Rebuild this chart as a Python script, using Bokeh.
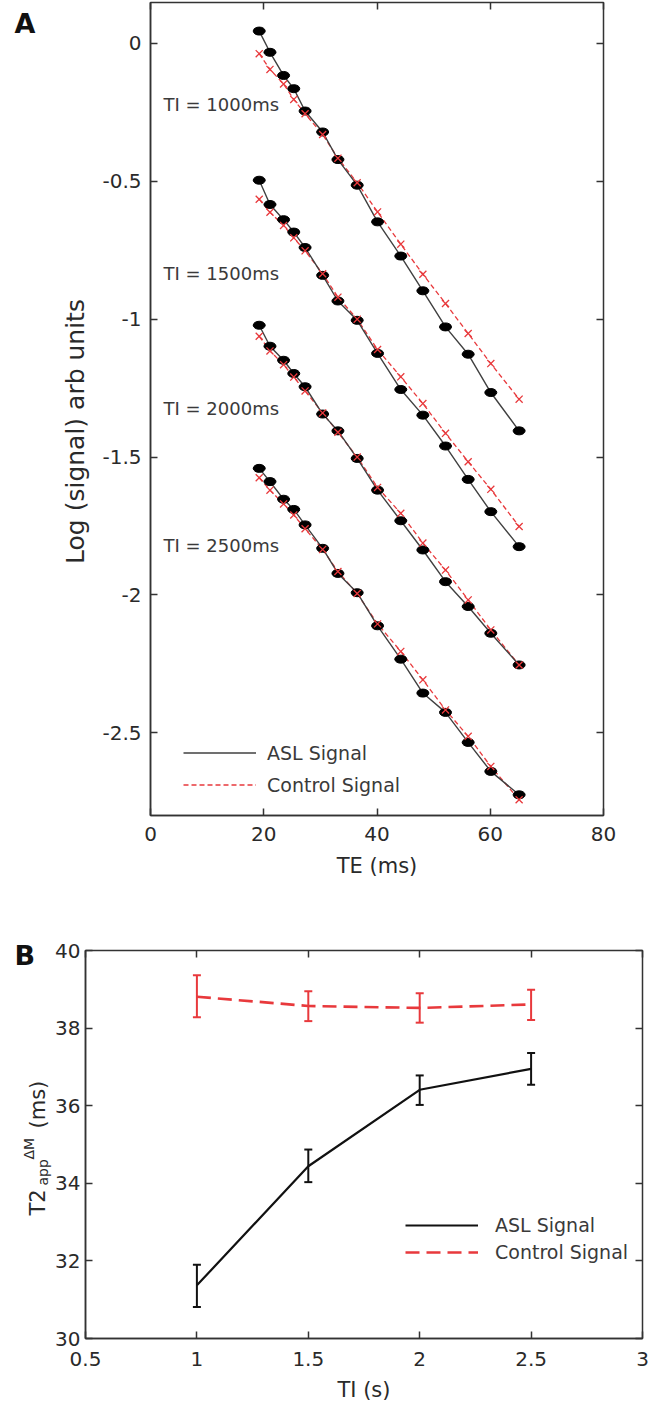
from bokeh.plotting import figure
from bokeh.models import (Range1d, LinearAxis, Legend, LegendItem, Whisker,
                          TeeHead, ColumnDataSource, FixedTicker, CustomLabelingPolicy)
from bokeh.layouts import column, row
from bokeh.embed import file_html
from bokeh.resources import INLINE
from bokeh.core.properties import value

# ---------------- Panel A data ----------------
te = [19.2, 21.1, 23.5, 25.3, 27.3, 30.4, 33.1, 36.5, 40.1, 44.2, 48.1, 52.1, 56.1, 60.1, 65.1]
asl_1000 = [0.045, -0.032, -0.116, -0.164, -0.245, -0.321, -0.421, -0.514, -0.647, -0.771, -0.897, -1.028, -1.127, -1.266, -1.405]
ctrl_1000 = [-0.037, -0.094, -0.147, -0.203, -0.255, -0.330, -0.416, -0.505, -0.611, -0.728, -0.837, -0.943, -1.052, -1.161, -1.290]
asl_1500 = [-0.496, -0.584, -0.639, -0.684, -0.740, -0.841, -0.934, -1.004, -1.124, -1.255, -1.348, -1.460, -1.581, -1.698, -1.825]
ctrl_1500 = [-0.565, -0.612, -0.660, -0.705, -0.752, -0.835, -0.920, -1.000, -1.110, -1.209, -1.306, -1.414, -1.517, -1.617, -1.752]
asl_2000 = [-1.022, -1.098, -1.149, -1.197, -1.245, -1.344, -1.405, -1.505, -1.620, -1.731, -1.837, -1.952, -2.042, -2.139, -2.254]
ctrl_2000 = [-1.062, -1.115, -1.165, -1.210, -1.260, -1.340, -1.410, -1.500, -1.610, -1.704, -1.812, -1.910, -2.018, -2.127, -2.254]
asl_2500 = [-1.541, -1.589, -1.653, -1.690, -1.746, -1.831, -1.922, -1.992, -2.112, -2.233, -2.356, -2.426, -2.535, -2.640, -2.725]
ctrl_2500 = [-1.575, -1.620, -1.670, -1.710, -1.760, -1.835, -1.915, -1.995, -2.105, -2.205, -2.308, -2.417, -2.513, -2.622, -2.743]
ti_labels = ["TI = 1000ms", "TI = 1500ms", "TI = 2000ms", "TI = 2500ms"]
ti_label_y = [-0.220, -0.833, -1.323, -1.820]
a_xticks = [0, 20, 40, 60, 80]
a_yticks = [0, -0.5, -1, -1.5, -2, -2.5]
a_ytick_text = ["0", "-0.5", "-1", "-1.5", "-2", "-2.5"]

# ---------------- Panel B data ----------------
ti = [1, 1.5, 2, 2.5]
asl_t2 = [31.37, 34.44, 36.41, 36.95]
asl_lo = [30.81, 34.03, 36.02, 36.54]
asl_hi = [31.90, 34.87, 36.78, 37.36]
ctrl_t2 = [38.81, 38.57, 38.52, 38.61]
ctrl_lo = [38.28, 38.18, 38.14, 38.21]
ctrl_hi = [39.36, 38.95, 38.90, 38.99]
b_xticks = [0.5, 1, 1.5, 2, 2.5, 3]
b_xtick_text = ["0.5", "1", "1.5", "2", "2.5", "3"]
b_yticks = [30, 32, 34, 36, 38, 40]

FONT = "DejaVu Sans"
TXT = "#2a2a2a"
AX = "#333333"
RED = "#e8393c"

HIDE = "for (const i of indices) indices.unset(i)"


def style(p, xt, yt, xover=None, yover=None):
    p.xgrid.visible = False
    p.ygrid.visible = False
    p.outline_line_color = AX
    p.outline_line_width = 1.5
    xa, ya = p.xaxis[0], p.yaxis[0]
    for ax in (xa, ya):
        ax.axis_line_color = AX
        ax.axis_line_width = 1.5
        ax.major_tick_line_color = AX
        ax.major_tick_line_width = 1.5
        ax.major_tick_in = 7
        ax.major_tick_out = 0
        ax.minor_tick_line_color = None
        ax.major_label_text_font = FONT
        ax.major_label_text_font_size = "20px"
        ax.major_label_text_color = TXT
        ax.axis_label_text_font = FONT
        ax.axis_label_text_font_size = "21px"
        ax.axis_label_text_font_style = "normal"
        ax.axis_label_text_color = TXT
    xa.ticker = FixedTicker(ticks=xt)
    ya.ticker = FixedTicker(ticks=yt)
    if xover:
        xa.major_label_overrides = xover
    if yover:
        ya.major_label_overrides = yover
    top = LinearAxis(ticker=FixedTicker(ticks=xt), major_label_text_font_size="0px",
                     major_label_standoff=0, axis_line_color=None,
                     major_label_policy=CustomLabelingPolicy(code=HIDE),
                     major_tick_line_color=AX, major_tick_line_width=1.5,
                     major_tick_in=7, major_tick_out=0, minor_tick_line_color=None)
    right = LinearAxis(ticker=FixedTicker(ticks=yt), major_label_text_font_size="0px",
                       major_label_standoff=0, axis_line_color=None,
                       major_label_policy=CustomLabelingPolicy(code=HIDE),
                       major_tick_line_color=AX, major_tick_line_width=1.5,
                       major_tick_in=7, major_tick_out=0, minor_tick_line_color=None)
    p.add_layout(top, "above")
    p.add_layout(right, "right")
    return xa, ya


def text_panel(w, h):
    q = figure(width=w, height=h, x_range=Range1d(0, w), y_range=Range1d(0, h),
               output_backend="svg", toolbar_location=None, min_border=0,
               x_axis_location=None, y_axis_location=None, frame_align=False)
    q.outline_line_color = None
    q.grid.visible = False
    return q


ROT = 1.5707963

# ================= Panel A =================
HA = 890
WLA = 96
la = text_panel(WLA, HA)
la.text(x=[14], y=[HA - 23], text=["A"], text_font=value(FONT), text_font_size="27px",
        text_font_style="bold", text_color="#111111", text_baseline="middle")
la.text(x=[75], y=[HA - 431], text=["Log (signal) arb units"], angle=ROT, text_font=value(FONT),
        text_font_size="25px", text_color=TXT, text_baseline="middle", text_align="center")

pA = figure(width=650 - WLA, height=HA, x_range=Range1d(0, 80), y_range=Range1d(-2.8, 0.1486),
            output_backend="svg", toolbar_location=None, frame_align=False,
            min_border_left=150 - WLA, min_border_right=47, min_border_top=2, min_border_bottom=75)
xA, yA = style(pA, a_xticks, a_yticks, yover={float(k): t for k, t in zip(a_yticks, a_ytick_text)})
xA.axis_label = "TE (ms)"
xA.major_label_standoff = 11
xA.axis_label_standoff = 10
yA.major_label_standoff = 9

asl_sets = [asl_1000, asl_1500, asl_2000, asl_2500]
ctrl_sets = [ctrl_1000, ctrl_1500, ctrl_2000, ctrl_2500]
black_lines = []
red_lines = []
for a, c in zip(asl_sets, ctrl_sets):
    rl = pA.line(te, c, line_color=RED, line_width=1.3, line_dash="5 3")
    bl = pA.line(te, a, line_color="#404040", line_width=1.4)
    pA.ellipse(te, a, width=12, height=8, width_units="screen", height_units="screen",
               fill_color="#000000", line_color="#000000")
    pA.scatter(te, c, marker="x", size=10, line_color=RED, line_width=1.3)
    black_lines.append(bl)
    red_lines.append(rl)

pA.text(x=[2.3] * len(ti_labels), y=ti_label_y, text=ti_labels, text_font=value(FONT),
        text_font_size="18px", text_color="#3a3a3a", text_baseline="middle", text_align="left")

legA = Legend(items=[LegendItem(label="ASL Signal", renderers=[black_lines[0]]),
                     LegendItem(label="Control Signal", renderers=[red_lines[0]])],
              location=(33, 16), padding=0, margin=0, spacing=3,
              glyph_width=73, glyph_height=29, label_height=29, label_standoff=11,
              label_text_font=FONT, label_text_font_size="19px", label_text_color="#3a3a3a",
              border_line_color=None, background_fill_alpha=0)
pA.add_layout(legA)

# ================= Panel B =================
HB = 522
WLB = 52
lb = text_panel(WLB, HB)
TOPB = 890  # page y of panel B's top
lb.text(x=[14], y=[HB - (955 - TOPB)], text=["B"], text_font=value(FONT), text_font_size="27px",
        text_font_style="bold", text_color="#111111", text_baseline="middle")
for txt, xx, py, fs in [("T2", 37, 1215, "21px"), ("app", 42, 1185, "14px"),
                        ("ΔM", 28, 1159, "14px"), ("(ms)", 37, 1128, "21px")]:
    lb.text(x=[xx], y=[HB - (py - TOPB)], text=[txt], angle=ROT, text_font=value(FONT),
            text_font_size=fs, text_color=TXT, text_align="left", text_baseline="alphabetic")

pB = figure(width=650 - WLB, height=HB, x_range=Range1d(0.5, 3), y_range=Range1d(30, 40),
            output_backend="svg", toolbar_location=None, frame_align=False,
            min_border_left=84 - WLB, min_border_right=8, min_border_top=60,
            min_border_bottom=HB - 60 - 388)
xB, yB = style(pB, b_xticks, b_yticks, xover={float(k): t for k, t in zip(b_xticks, b_xtick_text)})
xB.axis_label = "TI (s)"
xB.major_label_standoff = 13
xB.axis_label_standoff = 9
yB.major_label_standoff = 5

srcA = ColumnDataSource(dict(x=ti, y=asl_t2, lo=asl_lo, hi=asl_hi))
srcC = ColumnDataSource(dict(x=ti, y=ctrl_t2, lo=ctrl_lo, hi=ctrl_hi))
lineB_asl = pB.line("x", "y", source=srcA, line_color="#111111", line_width=2.2)
lineB_ctrl = pB.line("x", "y", source=srcC, line_color=RED, line_width=2.6, line_dash="14 7")
pB.add_layout(Whisker(source=srcA, base="x", upper="hi", lower="lo", line_color="#111111", line_width=2,
                      upper_head=TeeHead(size=8, line_color="#111111", line_width=2),
                      lower_head=TeeHead(size=8, line_color="#111111", line_width=2), level="glyph"))
pB.add_layout(Whisker(source=srcC, base="x", upper="hi", lower="lo", line_color=RED, line_width=2,
                      upper_head=TeeHead(size=8, line_color=RED, line_width=2),
                      lower_head=TeeHead(size=8, line_color=RED, line_width=2), level="glyph"))

legB = Legend(items=[LegendItem(label="ASL Signal", renderers=[lineB_asl]),
                     LegendItem(label="Control Signal", renderers=[lineB_ctrl])],
              location=(320, 74), padding=0, margin=0, spacing=3,
              glyph_width=73, glyph_height=24, label_height=24, label_standoff=17,
              label_text_font=FONT, label_text_font_size="19px", label_text_color="#3a3a3a",
              border_line_color=None, background_fill_alpha=0)
pB.add_layout(legB)

layout = column(row(la, pA), row(lb, pB))
open("out.html", "w").write(file_html(layout, INLINE))
